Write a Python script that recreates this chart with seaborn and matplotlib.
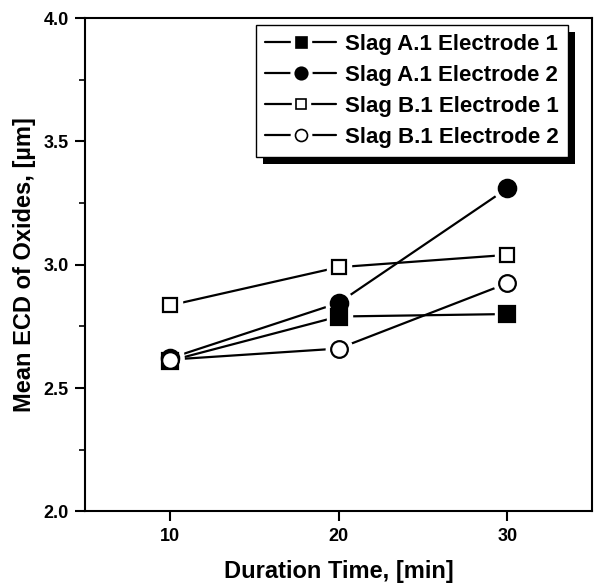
import pandas as pd
import matplotlib.pyplot as plt
import seaborn as sns
from matplotlib.patches import Rectangle
from matplotlib.lines import Line2D
from matplotlib.legend_handler import HandlerTuple
from matplotlib.ticker import MultipleLocator

# data
duration = [10, 20, 30]
a1_e1 = [2.61, 2.79, 2.80]
a1_e2 = [2.62, 2.845, 3.31]
b1_e1 = [2.835, 2.99, 3.04]
b1_e2 = [2.615, 2.66, 2.925]
series_names = ["Slag A.1 Electrode 1", "Slag A.1 Electrode 2",
                "Slag B.1 Electrode 1", "Slag B.1 Electrode 2"]

df = pd.DataFrame({
    "Duration": duration * 4,
    "ECD": a1_e1 + a1_e2 + b1_e1 + b1_e2,
    "Series": [n for n in series_names for _ in duration],
})

sns.set_style("ticks")
plt.rcParams["font.family"] = ["Liberation Sans", "DejaVu Sans"]
plt.rcParams["font.weight"] = "bold"
for key in ["text.color", "axes.labelcolor", "xtick.color", "ytick.color"]:
    plt.rcParams[key] = "black"

fig, ax = plt.subplots(figsize=(5.96, 5.87), dpi=100)
fig.subplots_adjust(left=0.143, right=0.993, top=0.969, bottom=0.129)

styles = {
    "Slag A.1 Electrode 1": dict(marker="s", mfc="black", ms=11),
    "Slag A.1 Electrode 2": dict(marker="o", mfc="black", ms=12.5),
    "Slag B.1 Electrode 1": dict(marker="s", mfc="white", ms=10.5),
    "Slag B.1 Electrode 2": dict(marker="o", mfc="white", ms=12),
}
for name in series_names:
    sub = df[df["Series"] == name]
    sns.lineplot(data=sub, x="Duration", y="ECD", ax=ax, color="black",
                 linewidth=1.6, legend=False, zorder=2)
for name in series_names:
    st = styles[name]
    sub = df[df["Series"] == name]
    # white halo so the lines stop short of the symbols
    ax.plot(sub["Duration"], sub["ECD"], linestyle="none", marker=st["marker"],
            markersize=st["ms"] + 7, markerfacecolor="white",
            markeredgecolor="white", zorder=3)
for name in series_names:
    st = styles[name]
    sub = df[df["Series"] == name]
    ax.plot(sub["Duration"], sub["ECD"], linestyle="none", marker=st["marker"],
            markersize=st["ms"], markerfacecolor=st["mfc"],
            markeredgecolor="black", markeredgewidth=1.6, zorder=4)

ax.set_xlim(5, 35)
ax.set_ylim(2.0, 4.0)
ax.set_xticks([10, 20, 30])
ax.yaxis.set_major_locator(MultipleLocator(0.5))
ax.yaxis.set_minor_locator(MultipleLocator(0.25))
ax.yaxis.set_major_formatter(plt.FormatStrFormatter("%.1f"))
ax.tick_params(axis="both", which="major", direction="out", length=7, width=1.5,
               labelsize=13, pad=5)
ax.tick_params(axis="y", which="minor", direction="out", length=4, width=1.2)
for sp in ax.spines.values():
    sp.set_linewidth(1.5)
    sp.set_color("black")
for lab in ax.get_xticklabels() + ax.get_yticklabels():
    lab.set_fontweight("bold")

ax.set_xlabel("Duration Time, [min]", fontsize=17, fontweight="bold", labelpad=11)
ax.set_ylabel("Mean ECD of Oxides, [\u00b5m]", fontsize=17, fontweight="bold", labelpad=5)

# legend handles: line - gap - symbol - gap - line
handles = []
for name in series_names:
    st = styles[name]
    ms = st["ms"] * 0.72
    line = Line2D([], [], color="black", linewidth=1.6)
    halo = Line2D([], [], linestyle="none", marker=st["marker"], markersize=ms + 6,
                  markerfacecolor="white", markeredgecolor="white")
    sym = Line2D([], [], linestyle="none", marker=st["marker"], markersize=ms,
                 markerfacecolor=st["mfc"], markeredgecolor="black", markeredgewidth=1.2)
    handles.append((line, halo, sym))
leg = ax.legend(handles, series_names, loc="upper right", bbox_to_anchor=(0.953, 0.986),
                borderaxespad=0, frameon=True, fancybox=False, handlelength=3.2,
                handletextpad=0.4, labelspacing=0.45, borderpad=0.4,
                handler_map={tuple: HandlerTuple(ndivide=1, pad=0)},
                prop={"size": 16, "weight": "bold"})
leg.get_frame().set_edgecolor("black")
leg.get_frame().set_linewidth(1.0)
leg.get_frame().set_alpha(1)
leg.set_zorder(6)

# solid drop shadow behind the legend box
fig.canvas.draw()
bb = leg.get_window_extent().transformed(fig.transFigure.inverted())
shadow = Rectangle((bb.x0 + 7 / 596, bb.y0 - 7 / 587), bb.width, bb.height,
                   transform=fig.transFigure, facecolor="black", edgecolor="none",
                   zorder=5)
ax.add_artist(shadow)
shadow.set_clip_on(False)

plt.savefig("out.png", dpi=100)
plt.close()
